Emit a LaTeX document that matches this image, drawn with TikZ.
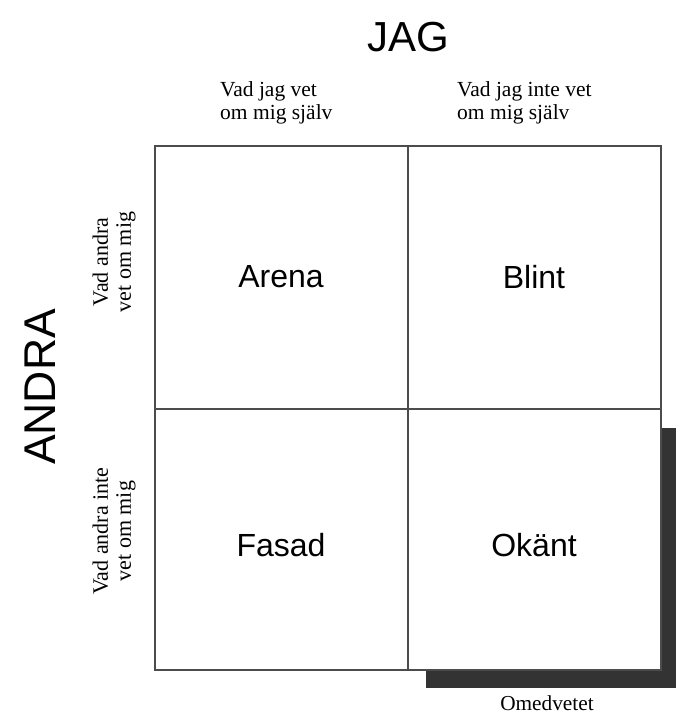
\documentclass[tikz,border=0pt]{standalone}
\usepackage{fontspec}
\setmainfont{Liberation Serif}
\setsansfont{Liberation Sans}
\begin{document}
\begin{tikzpicture}[x=1pt,y=-1pt,
  gridline/.style={draw=black!70,line width=1.6pt},
  bigjag/.style={font=\sffamily\fontsize{42}{46}\selectfont,inner sep=0pt},
  bigandra/.style={font=\sffamily\fontsize{44.5}{48}\selectfont,inner sep=0pt},
  cell/.style={font=\sffamily\fontsize{32}{36}\selectfont,inner sep=0pt},
  small/.style={font=\fontsize{21.5}{23}\selectfont,inner sep=0pt,align=left},
  smallc/.style={font=\fontsize{22}{23}\selectfont,inner sep=0pt,align=center}]
\useasboundingbox (0,0) rectangle (676,716);
% shadow
\fill[black!80] (426,428) rectangle (678,688);
% grid
\fill[white] (155,146) rectangle (661,670);
\draw[gridline] (155,146) rectangle (661,670);
\coordinate (tm) at (408,146);
\coordinate (bm) at (408,670);
\coordinate (lm) at (155,409);
\coordinate (rm) at (661,409);
\draw[gridline] (tm) -- (bm);
\draw[gridline] (lm) -- (rm);
% titles
\node[bigjag] (jag) at (408,37) {JAG};
\node[bigandra,rotate=90] (andra) at (40,387) {ANDRA};
% column labels
\node[small,anchor=west] (c1) at (220,103) {Vad jag vet\\om mig själv};
\node[small,anchor=west] (c2) at (457,103) {Vad jag inte vet\\om mig själv};
% row labels
\node[smallc,rotate=90] (r1) at (114,262) {Vad andra\\vet om mig};
\node[smallc,rotate=90] (r2) at (114,531) {Vad andra inte\\vet om mig};
% cells
\node[cell] (arena) at (281,277) {Arena};
\node[cell] (blint) at (534,277) {Blint};
\node[cell] (fasad) at (281,545) {Fasad};
\node[cell] (okant) at (534,545) {Okänt};
\node[font=\fontsize{21.3}{23}\selectfont,inner sep=0pt] (omed) at (547,703) {Omedvetet};
\end{tikzpicture}
\end{document}
